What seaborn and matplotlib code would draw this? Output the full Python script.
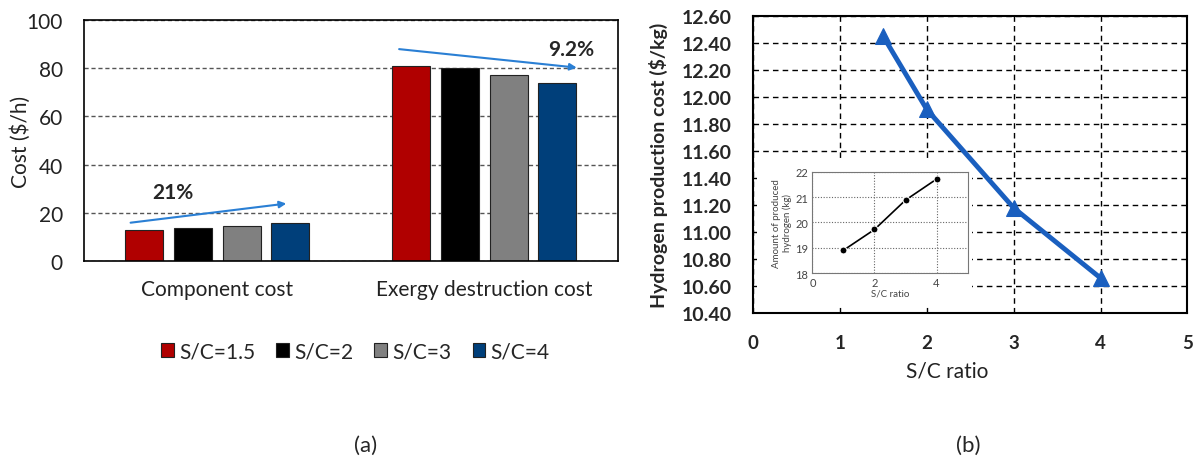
import numpy as np
import pandas as pd
import matplotlib
matplotlib.use("Agg")
import matplotlib.pyplot as plt
from matplotlib.patches import Rectangle
import seaborn as sns

# (a) cost bars
categories = ["Component cost", "Exergy destruction cost"]
sc_labels = ["S/C=1.5", "S/C=2", "S/C=3", "S/C=4"]
component_cost = [13.0, 13.8, 14.7, 15.7]
exergy_cost = [80.8, 80.0, 77.1, 73.9]
bar_colors = ["#b00000", "#000000", "#808080", "#003f7a"]

# (b) hydrogen production cost
sc_ratio = [1.5, 2, 3, 4]
h2_cost = [12.45, 11.91, 11.18, 10.66]

# inset: amount of produced hydrogen
inset_ratio = [1, 2, 3, 4]
h2_amount = [18.9, 19.72, 20.88, 21.71]

sns.set_theme(style="white")
plt.rcParams["font.family"] = ["Lato", "DejaVu Sans"]

df = pd.DataFrame({
    "category": np.repeat(categories, len(sc_labels)),
    "sc": sc_labels * 2,
    "cost": component_cost + exergy_cost,
})

fig = plt.figure(figsize=(11.97, 4.64), dpi=100)

# ---- panel (a)
ax1 = fig.add_axes([0.070, 0.435, 0.446, 0.52])
sns.barplot(data=df, x="category", y="cost", hue="sc", palette=bar_colors,
            saturation=1, width=0.73, gap=0.22, edgecolor="#222222",
            linewidth=0.8, ax=ax1)
ax1.set_xlim(-0.5, 1.5)
ax1.set_ylim(0, 100)
ax1.set_yticks(range(0, 101, 20))
ax1.yaxis.grid(True, linestyle=(0, (3, 2)), color="#555555", lw=1)
ax1.set_axisbelow(True)
for s in ax1.spines.values():
    s.set_color("black")
    s.set_linewidth(1.2)
ax1.set_xlabel("")
ax1.set_ylabel("Cost ($/h)", fontsize=15, color="#222222")
ax1.yaxis.set_label_coords(-0.10, 0.5)
ax1.tick_params(axis="x", length=0, pad=13, labelsize=15, labelcolor="#222222")
ax1.tick_params(axis="y", length=0, pad=15, labelsize=15, labelcolor="#222222")

arrow = dict(arrowstyle="-|>", color="#2a7fd4", lw=1.5, mutation_scale=10)
ax1.annotate("", xy=(0.269, 24.0), xytext=(-0.335, 15.8), arrowprops=arrow)
ax1.annotate("", xy=(1.357, 80.1), xytext=(0.671, 88.0), arrowprops=arrow)
ax1.text(-0.166, 28.6, "21%", fontsize=15, fontweight="bold", ha="center", va="center")
ax1.text(1.327, 88.0, "9.2%", fontsize=15, fontweight="bold", ha="center", va="center")

handles, labels = ax1.get_legend_handles_labels()
ax1.legend(handles, labels, loc="center", bbox_to_anchor=(0.297, 0.241),
           bbox_transform=fig.transFigure, ncol=4, frameon=False, fontsize=15,
           handlelength=0.62, handleheight=0.62, handletextpad=0.25, columnspacing=1.0)

fig.text(0.305, 0.04, "(a)", fontsize=16, ha="center", va="center")

# ---- panel (b)
ax2 = fig.add_axes([0.629, 0.323, 0.363, 0.64])
sns.lineplot(x=sc_ratio, y=h2_cost, marker="^", markersize=11, color="#1a5fbf",
             markeredgecolor="#1a5fbf", lw=3.5, ax=ax2)
ax2.set_xlim(0, 5)
ax2.set_ylim(10.4, 12.6)
ax2.set_xticks(range(0, 6))
ax2.set_yticks(np.arange(10.4, 12.61, 0.2))
ax2.set_yticklabels([f"{v:.2f}" for v in np.arange(10.4, 12.61, 0.2)])
ax2.grid(True, linestyle=(0, (4, 3)), color="black", lw=1)
ax2.set_axisbelow(True)
for s in ax2.spines.values():
    s.set_color("black")
    s.set_linewidth(1.5)
ax2.tick_params(axis="y", length=0, pad=15, labelsize=14)
ax2.tick_params(axis="x", length=0, pad=15, labelsize=13.5)
for lab in ax2.get_xticklabels() + ax2.get_yticklabels():
    lab.set_fontweight("bold")
ax2.set_xlabel("S/C ratio", fontsize=15, color="#222222")
ax2.xaxis.set_label_coords(0.447, -0.16)
ax2.set_ylabel("Hydrogen production cost ($/kg)", fontsize=14, fontweight="bold")
ax2.yaxis.set_label_coords(-0.196, 0.5)

# white area behind the inset
ax2.add_patch(Rectangle((0.01, 0.02), 0.495, 0.50, transform=ax2.transAxes,
                        facecolor="white", edgecolor="none", zorder=1))

axin = ax2.inset_axes([0.137, 0.135, 0.357, 0.341])
sns.lineplot(x=inset_ratio, y=h2_amount, marker="o", markersize=5, color="black",
             lw=1.2, ax=axin)
axin.set_xlim(0, 5)
axin.set_ylim(18, 22)
axin.set_xticks([0, 2, 4])
axin.set_yticks(range(18, 23))
axin.grid(True, linestyle=(0, (1, 1.5)), color="#666666", lw=0.8)
for s in axin.spines.values():
    s.set_color("#777777")
    s.set_linewidth(0.8)
axin.tick_params(length=0, labelsize=8, colors="#444444", pad=3)
axin.set_xlabel("S/C ratio", fontsize=7, color="#444444", labelpad=0)
axin.set_ylabel("Amount of produced\nhydrogen (kg)", fontsize=7, color="#444444", labelpad=2)

fig.text(0.809, 0.04, "(b)", fontsize=16, ha="center", va="center")

fig.savefig("out.png", dpi=100)
